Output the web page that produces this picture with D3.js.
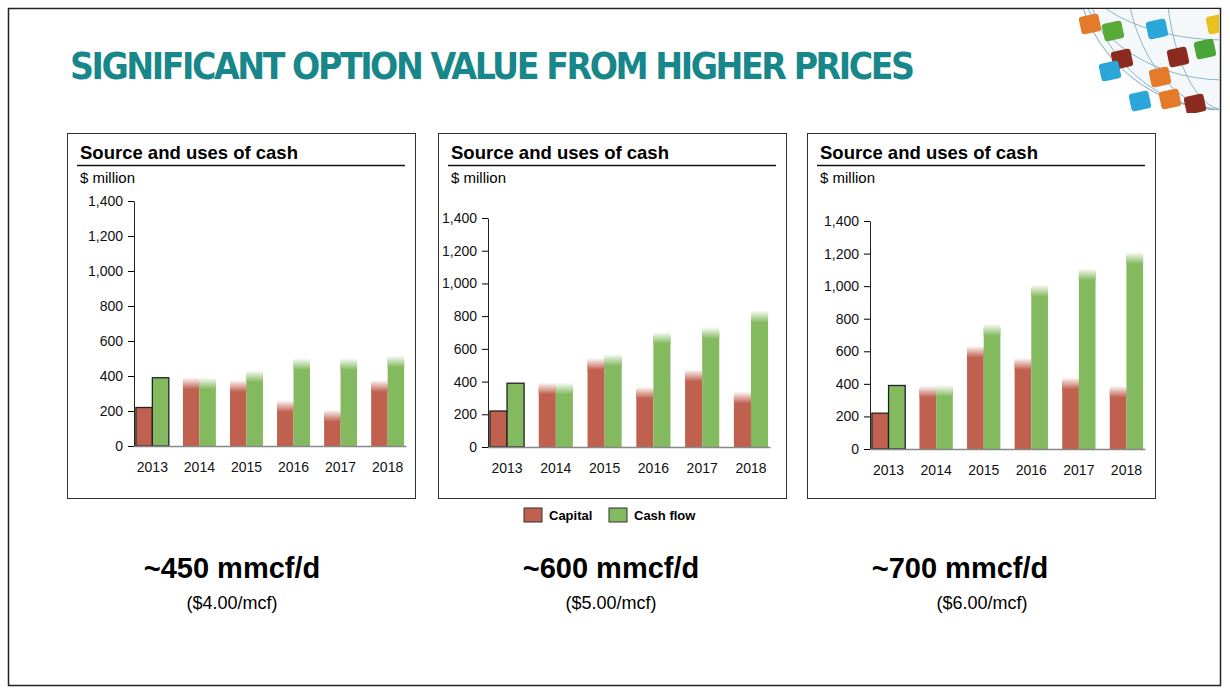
<!DOCTYPE html>
<html><head><meta charset="utf-8">
<script src="https://cdn.jsdelivr.net/npm/d3@7"></script>
<style>body{margin:0;background:#fff}svg{font-family:"Liberation Sans",Arial,sans-serif}.tk text{font-size:14px;fill:#111;font-family:"Liberation Sans",Arial}</style>
</head><body><svg id="c" width="1230" height="700"></svg>
<script>
const years=["2013","2014","2015","2016","2017","2018"];
const capital1=[220,370,355,240,185,355];
const cashflow1=[390,370,410,480,480,495];
const capital2=[220,370,520,345,450,315];
const cashflow2=[390,370,545,680,710,810];
const capital3=[220,365,610,535,415,365];
const cashflow3=[390,370,745,985,1085,1185];
const yTicks=[0,200,400,600,800,1000,1200,1400];
const headlines=["~450 mmcf/d","~600 mmcf/d","~700 mmcf/d"];
const prices=["($4.00/mcf)","($5.00/mcf)","($6.00/mcf)"];
const RED="#c0604f",GREEN="#83b95f";
const svg=d3.select("#c");
const defs=svg.append("defs");
[["gr",RED],["gg",GREEN]].forEach(([id,c])=>{const g=defs.append("linearGradient").attr("id",id).attr("x1",0).attr("x2",0).attr("y1",0).attr("y2",1);
g.append("stop").attr("offset",0).attr("stop-color","#fff");g.append("stop").attr("offset",1).attr("stop-color",c);});
svg.append("rect").attr("x",8.5).attr("y",8.5).attr("width",1212).attr("height",677).attr("fill","none").attr("stroke","#222").attr("stroke-width",1.5);
const gl=svg.append("g");
defs.append("clipPath").attr("id","gc").append("rect").attr("x",1060).attr("y",9).attr("width",159).attr("height",104);
const gg=gl.append("g").attr("clip-path","url(#gc)");
gg.append("circle").attr("cx",1225).attr("cy",-40).attr("r",150).attr("fill","#f4f8fb").attr("stroke","#7fa8b8");
[60,100,140].forEach(r=>gg.append("ellipse").attr("cx",1225).attr("cy",-40).attr("rx",r).attr("ry",150).attr("fill","none").attr("stroke","#8fb5c5"));
[40,80,120].forEach(r=>gg.append("ellipse").attr("cx",1225).attr("cy",-40).attr("rx",150).attr("ry",r).attr("fill","none").attr("stroke","#8fb5c5"));
const tiles=[[1080,15,"#e37b2a"],[1103,22,"#5aaa3a"],[1112,50,"#8b2a1e"],[1147,20,"#2aa7d8"],[1168,48,"#8b2a1e"],[1150,68,"#e37b2a"],[1195,40,"#4aa538"],[1207,15,"#e8c020"],[1130,92,"#2aa7d8"],[1100,62,"#2aa7d8"],[1160,90,"#e37b2a"],[1185,95,"#8b2a1e"]];
tiles.forEach(([x,y,c])=>gg.append("rect").attr("x",x).attr("y",y).attr("width",20).attr("height",18).attr("rx",3).attr("fill",c).attr("transform",`rotate(-12,${x+10},${y+9})`));
svg.append("text").attr("x",70).attr("y",79).text("SIGNIFICANT OPTION VALUE FROM HIGHER PRICES")
 .attr("fill","#17878a").attr("font-weight","bold").attr("font-size",37).attr("font-family","'Liberation Sans Narrow','DejaVu Sans Condensed',sans-serif").attr("textLength",845);
const panels=[
 {bx:67,x0:134,x1:406,y0:446,y1:201,cap:capital1,cf:cashflow1},
 {bx:438,x0:488,x1:770,y0:447,y1:218,cap:capital2,cf:cashflow2},
 {bx:807,x0:870,x1:1145,y0:449,y1:221,cap:capital3,cf:cashflow3}];
panels.forEach((p,i)=>{
 const g=svg.append("g");
 g.append("rect").attr("x",p.bx+0.5).attr("y",133.5).attr("width",348).attr("height",365).attr("fill","none").attr("stroke","#333");
 g.append("text").attr("x",p.bx+13).attr("y",159).text("Source and uses of cash").attr("font-weight","bold").attr("font-size",18.5);
 g.append("line").attr("x1",p.bx+10).attr("x2",p.bx+338).attr("y1",165.5).attr("y2",165.5).attr("stroke","#111").attr("stroke-width",1.5);
 g.append("text").attr("x",p.bx+13).attr("y",183).text("$ million").attr("font-size",15);
 const x=d3.scaleBand().domain(years).range([p.x0,p.x1]).paddingInner(0.3).paddingOuter(0.04);
 const y=d3.scaleLinear().domain([0,1400]).range([p.y0,p.y1]);
 const bw=x.bandwidth()/2;
 years.forEach((yr,j)=>{
  [[p.cap[j],RED,"gr",0],[p.cf[j],GREEN,"gg",1]].forEach(([v,c,gid,k])=>{
   const bx=x(yr)+k*bw;
   const r=g.append("rect").attr("x",bx).attr("y",y(v)).attr("width",bw).attr("height",y(0)-y(v)).attr("fill",c);
   if(j===0) r.attr("stroke","#222").attr("stroke-width",1.3);
   else g.append("rect").attr("x",bx).attr("y",y(v)-4).attr("width",bw).attr("height",12).attr("fill",`url(#${gid})`);
  });
 });
 const ya=g.append("g").attr("class","tk").attr("transform",`translate(${p.x0},0)`).call(d3.axisLeft(y).tickValues(yTicks).tickFormat(d3.format(",")).tickSize(6).tickSizeOuter(0).tickPadding(5));
 ya.select(".domain").attr("stroke","#222");
 const xa=g.append("g").attr("class","tk").attr("transform",`translate(0,${p.y0})`).call(d3.axisBottom(x).tickSize(0).tickPadding(16));
 xa.select(".domain").attr("stroke","#888").attr("stroke-width",1.5);
 const cx=[232,611,960][i];
 svg.append("text").attr("x",cx).attr("y",578).attr("text-anchor","middle").text(headlines[i]).attr("font-weight","bold").attr("font-size",29);
 svg.append("text").attr("x",cx+[0,0,22][i]).attr("y",609).attr("text-anchor","middle").text(prices[i]).attr("font-size",18);
});
const lg=svg.append("g");
[["Capital",RED,524],["Cash flow",GREEN,609]].forEach(([t,c,x])=>{
 lg.append("rect").attr("x",x).attr("y",508).attr("width",18).attr("height",14).attr("fill",c).attr("stroke","#333");
 lg.append("text").attr("x",x+25).attr("y",520).text(t).attr("font-weight","bold").attr("font-size",13);
});
</script></body></html>
